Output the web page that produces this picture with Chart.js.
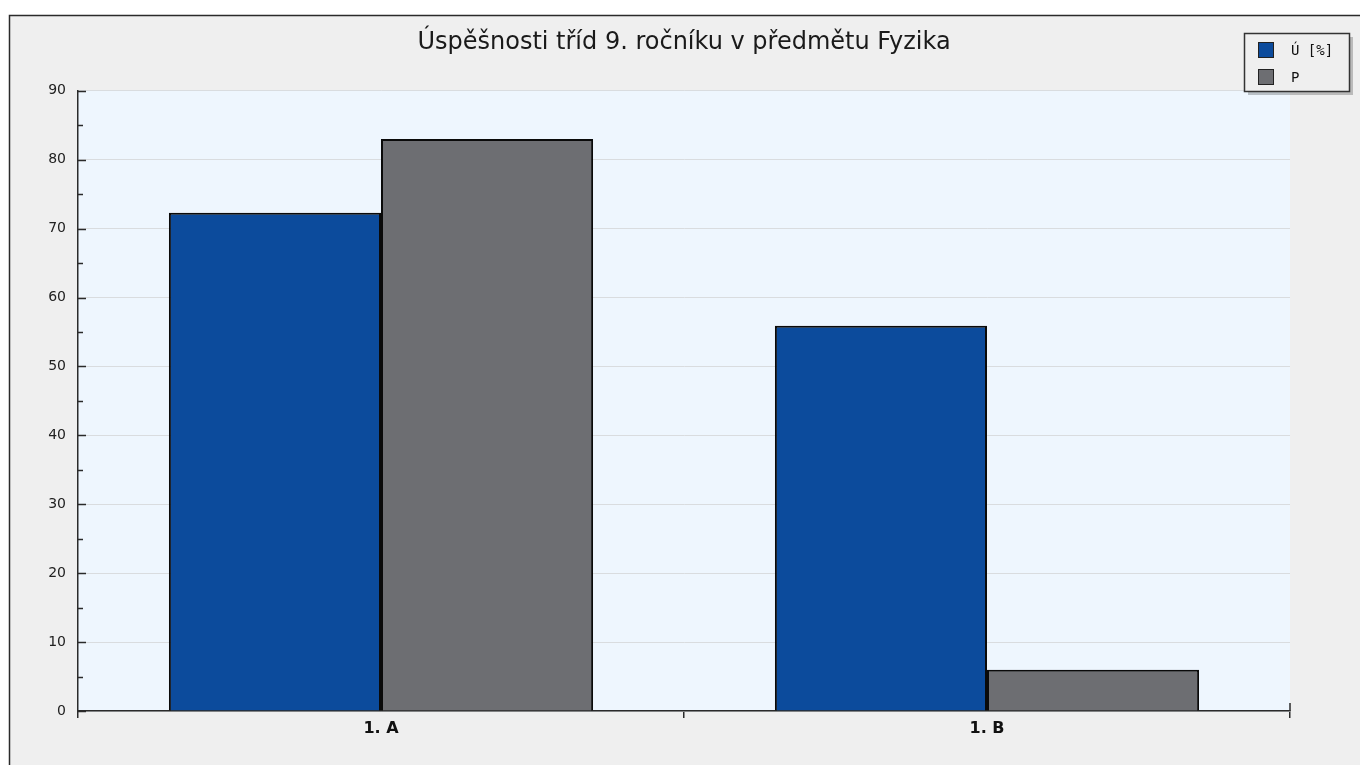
<!DOCTYPE html>
<html>
<head>
<meta charset="utf-8">
<title>Úspěšnosti tříd</title>
<script src="https://cdn.jsdelivr.net/npm/chart.js@4.4.1/dist/chart.umd.min.js"></script>
<style>
    body { margin: 0; background: #ffffff; }
    canvas { display: block; }
</style>
</head>
<body>
<canvas id="chart" width="1360" height="765"></canvas>
<script>
// Data
var categories = ['1. A', '1. B'];
var seriesNames = ['Ú [%]', 'P'];
var successValues = [72.3, 55.9];
var pValues = [83.0, 6.0];
var yMin = 0, yMax = 90, yStep = 10, yMinorStep = 5;

var blue = '#0c4b9c',
    grey = '#6d6e72',
    frameColor = '#2a2a2a',
    gridLineColor = '#d9dcdf';

// Frame + plot background
var frameBackground = {
    id: 'frameBackground',
    beforeDraw(chart) {
        var c = chart.ctx, a = chart.chartArea;
        c.save();
        c.fillStyle = '#ffffff';
        c.fillRect(0, 0, chart.width, chart.height);
        c.fillStyle = '#efefef';
        c.fillRect(9, 15, chart.width - 9, chart.height - 15);
        c.strokeStyle = frameColor;
        c.lineWidth = 1.5;
        c.beginPath();
        c.moveTo(9.5, chart.height);
        c.lineTo(9.5, 15.5);
        c.lineTo(chart.width, 15.5);
        c.stroke();
        c.fillStyle = '#eef6fe';
        c.fillRect(a.left, a.top, a.right - a.left, a.bottom - a.top);
        c.restore();
    }
};

// Inner tick marks on the y axis (major and minor)
var innerTicks = {
    id: 'innerTicks',
    afterDatasetsDraw(chart) {
        var c = chart.ctx, y = chart.scales.y, a = chart.chartArea;
        c.save();
        c.strokeStyle = frameColor;
        c.lineWidth = 1.5;
        for (var v = yMin; v <= yMax; v += yMinorStep) {
            var py = Math.round(y.getPixelForValue(v)) + 0.5;
            var len = (v % yStep === 0) ? 8 : 5;
            c.beginPath();
            c.moveTo(a.left, py);
            c.lineTo(a.left + len, py);
            c.stroke();
        }
        // small tick at the right end of the x axis
        c.beginPath();
        c.moveTo(a.right, a.bottom);
        c.lineTo(a.right, a.bottom - 8);
        c.stroke();
        c.restore();
    }
};

// Boxed legend in the top right corner
var boxLegend = {
    id: 'boxLegend',
    afterDraw(chart) {
        var c = chart.ctx;
        var x = 1244, y = 33, w = 105, h = 58;
        c.save();
        c.fillStyle = 'rgba(0,0,0,0.22)';
        c.fillRect(x + 4, y + 4, w, h);
        c.fillStyle = '#efefef';
        c.fillRect(x, y, w, h);
        c.strokeStyle = '#333333';
        c.lineWidth = 1.5;
        c.strokeRect(x + 0.5, y + 0.5, w, h);
        c.font = '14px "DejaVu Sans Mono"';
        c.textBaseline = 'middle';
        chart.data.datasets.forEach(function (ds, i) {
            var sy = 42 + i * 27;
            c.fillStyle = ds.backgroundColor;
            c.fillRect(1258, sy, 16, 16);
            c.strokeStyle = '#222222';
            c.lineWidth = 1;
            c.strokeRect(1258.5, sy + 0.5, 15, 15);
            c.fillStyle = '#111111';
            c.fillText(ds.label, 1291, sy + 9);
        });
        c.restore();
    }
};

var chart = new Chart(document.getElementById('chart'), {
    type: 'bar',
    data: {
        labels: categories,
        datasets: [
            {
                label: seriesNames[0],
                data: successValues,
                backgroundColor: blue,
                borderColor: '#0a0a0a',
                borderWidth: 2,
                borderSkipped: 'bottom'
            },
            {
                label: seriesNames[1],
                data: pValues,
                backgroundColor: grey,
                borderColor: '#0a0a0a',
                borderWidth: 2,
                borderSkipped: 'bottom'
            }
        ]
    },
    options: {
        responsive: false,
        animation: false,
        categoryPercentage: 0.7,
        barPercentage: 1.0,
        layout: {
            padding: { left: 8, right: 70, bottom: 20, top: 0 }
        },
        scales: {
            x: {
                grid: {
                    offset: true,
                    drawOnChartArea: false,
                    drawTicks: true,
                    tickLength: 7,
                    color: frameColor,
                    lineWidth: 1.5
                },
                border: { display: true, color: frameColor, width: 1.5 },
                ticks: {
                    color: '#111111',
                    padding: 1,
                    font: { family: 'DejaVu Sans', size: 16, weight: 'bold' }
                },
                afterFit: function (scale) { scale.height = 34; }
            },
            y: {
                min: yMin,
                max: yMax,
                ticks: {
                    stepSize: yStep,
                    color: '#222222',
                    padding: 12,
                    font: { family: 'DejaVu Sans', size: 14 }
                },
                grid: {
                    color: gridLineColor,
                    lineWidth: 1,
                    drawTicks: false
                },
                border: { display: true, color: frameColor, width: 1.5 },
                afterFit: function (scale) { scale.width = 70; }
            }
        },
        plugins: {
            legend: { display: false },
            tooltip: { enabled: false },
            title: {
                display: true,
                fullSize: false,
                text: 'Úspěšnosti tříd 9. ročníku v předmětu Fyzika',
                color: '#1a1a1a',
                font: { family: 'DejaVu Sans', size: 24, weight: 'normal', lineHeight: 1.2 },
                padding: { top: 28, bottom: 34 }
            }
        }
    },
    plugins: [frameBackground, innerTicks, boxLegend]
});
</script>
</body>
</html>
